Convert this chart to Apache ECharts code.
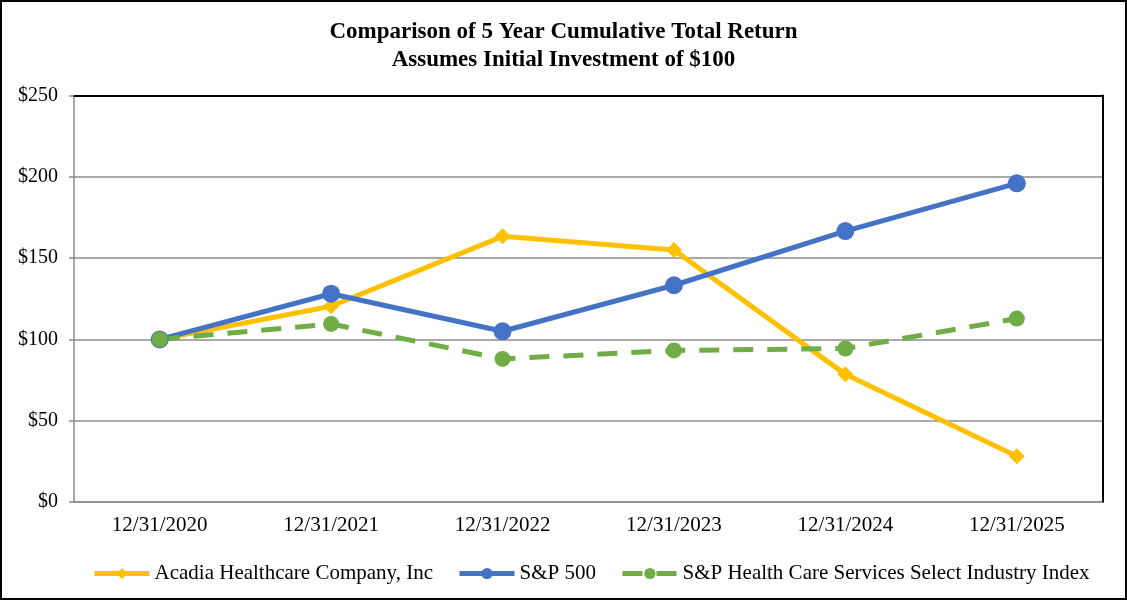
<!DOCTYPE html>
<html>
<head>
<meta charset="utf-8">
<script src="https://cdn.jsdelivr.net/npm/echarts@6/dist/echarts.min.js"></script>
<style>
  html, body { margin: 0; padding: 0; background: #fff; }
  #chart { width: 1127px; height: 600px; box-sizing: border-box; border: 2px solid #000; }
</style>
</head>
<body>
<div id="chart"></div>
<script>
const years = ['12/31/2020', '12/31/2021', '12/31/2022', '12/31/2023', '12/31/2024', '12/31/2025'];
const acadia = [100, 120.4, 163.4, 155.0, 78.5, 28.2];
const sp500 = [100, 128.1, 105.0, 133.3, 166.6, 196.0];
const healthServices = [100, 109.5, 88.0, 93.2, 94.4, 112.8];
const yTicks = [0, 50, 100, 150, 200, 250];

const serif = '"Liberation Serif", "Times New Roman", serif';
const chart = echarts.init(document.getElementById('chart'));

chart.setOption({
  animation: false,
  title: {
    text: 'Comparison of 5 Year Cumulative Total Return\nAssumes Initial Investment of $100',
    left: 'center',
    top: 11,
    textStyle: {
      fontFamily: serif,
      fontWeight: 'bold',
      fontSize: 23,
      lineHeight: 28,
      color: '#000'
    }
  },
  legend: {
    bottom: 9,
    left: 85,
    itemWidth: 55,
    itemHeight: 14,
    itemGap: 24,
    lineStyle: { width: 5 },
    textStyle: { fontFamily: serif, fontSize: 21, color: '#000' },
    data: ['Acadia Healthcare Company, Inc', 'S&P 500', 'S&P Health Care Services Select Industry Index']
  },
  grid: {
    left: 72,
    right: 22.5,
    top: 93.5,
    bottom: 96
  },
  xAxis: [
    {
      type: 'category',
      data: years,
      boundaryGap: true,
      axisLine: { lineStyle: { color: '#8c8c8c', width: 1.5 } },
      axisTick: { alignWithLabel: true, inside: true, length: 6, lineStyle: { color: '#8c8c8c', width: 1.5 } },
      axisLabel: { fontFamily: serif, fontSize: 21, color: '#000', margin: 13 }
    },
    {
      type: 'category',
      data: years,
      position: 'top',
      axisLine: { onZero: false, lineStyle: { color: '#000', width: 2 } },
      axisTick: { show: false },
      axisLabel: { show: false }
    }
  ],
  yAxis: [
    {
      type: 'value',
      min: yTicks[0],
      max: yTicks[yTicks.length - 1],
      interval: 50,
      axisLine: { show: true, lineStyle: { color: '#8c8c8c', width: 1.5 } },
      axisTick: { show: true, length: 5, lineStyle: { color: '#8c8c8c', width: 1.5 } },
      axisLabel: {
        fontFamily: serif,
        fontSize: 20,
        color: '#000',
        margin: 16,
        formatter: v => '$' + v
      },
      splitLine: { lineStyle: { color: '#8c8c8c', width: 1.5 } }
    },
    {
      type: 'value',
      min: yTicks[0],
      max: yTicks[yTicks.length - 1],
      position: 'right',
      axisLine: { show: true, onZero: false, lineStyle: { color: '#000', width: 2 } },
      axisTick: { show: false },
      axisLabel: { show: false },
      splitLine: { show: false }
    }
  ],
  series: [
    {
      name: 'Acadia Healthcare Company, Inc',
      type: 'line',
      data: acadia,
      symbol: 'diamond',
      symbolSize: 16,
      lineStyle: { color: '#FFC000', width: 5 },
      itemStyle: { color: '#FFC000' }
    },
    {
      name: 'S&P 500',
      type: 'line',
      data: sp500,
      symbol: 'circle',
      symbolSize: 18,
      lineStyle: { color: '#4472C4', width: 5 },
      itemStyle: { color: '#4472C4' }
    },
    {
      name: 'S&P Health Care Services Select Industry Index',
      type: 'line',
      data: healthServices,
      symbol: 'circle',
      symbolSize: 16,
      lineStyle: { color: '#70AD47', width: 5, type: [20, 14] },
      itemStyle: { color: '#70AD47' }
    }
  ]
});
</script>
</body>
</html>
